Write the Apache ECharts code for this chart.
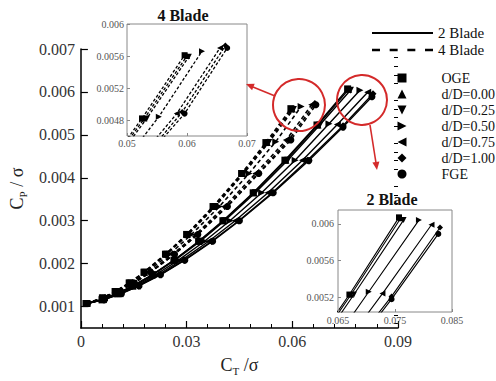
<!DOCTYPE html>
<html><head><meta charset="utf-8">
<script src="https://cdn.jsdelivr.net/npm/echarts@6/dist/echarts.min.js"></script>
<style>html,body{margin:0;padding:0;background:#fff}#c{width:496px;height:381px}</style>
</head><body><div id="c"></div>
<script>
// ---- categories / legend names ----
const caseNames = ['OGE','d/D=0.00','d/D=0.25','d/D=0.50','d/D=0.75','d/D=1.00','FGE'];
const bladeNames = ['2 Blade','4 Blade'];

// ---- 2 Blade data (CT/sigma, CP/sigma) ----
const b2_OGE_x  = [0.0015,0.0060,0.0102,0.0147,0.0202,0.0264,0.0334,0.0403,0.0489,0.0579,0.0670,0.0757];
const b2_OGE_y  = [0.00107,0.00116,0.00130,0.00148,0.00174,0.00208,0.00252,0.00300,0.00365,0.00441,0.00523,0.00607];
const b2_D000_x = [0.0016,0.0060,0.0103,0.0148,0.0203,0.0265,0.0336,0.0405,0.0491,0.0582,0.0673,0.0760];
const b2_D000_y = [0.00107,0.00116,0.00130,0.00148,0.00174,0.00208,0.00252,0.00300,0.00365,0.00441,0.00523,0.00606];
const b2_D025_x = [0.0016,0.0061,0.0104,0.0149,0.0205,0.0267,0.0339,0.0408,0.0495,0.0587,0.0678,0.0765];
const b2_D025_y = [0.00107,0.00116,0.00130,0.00148,0.00174,0.00208,0.00252,0.00300,0.00365,0.00441,0.00523,0.00604];
const b2_D050_x = [0.0017,0.0062,0.0107,0.0155,0.0212,0.0277,0.0351,0.0423,0.0513,0.0608,0.0704,0.0792];
const b2_D050_y = [0.00107,0.00116,0.00130,0.00148,0.00174,0.00208,0.00252,0.00300,0.00365,0.00441,0.00526,0.00604];
const b2_D075_x = [0.0017,0.0064,0.0111,0.0160,0.0219,0.0286,0.0363,0.0438,0.0531,0.0629,0.0728,0.0814];
const b2_D075_y = [0.00107,0.00116,0.00130,0.00148,0.00174,0.00208,0.00252,0.00300,0.00365,0.00441,0.00524,0.00599];
const b2_D100_x = [0.0018,0.0065,0.0114,0.0164,0.0224,0.0293,0.0371,0.0448,0.0543,0.0643,0.0744,0.0829];
const b2_D100_y = [0.00107,0.00116,0.00130,0.00148,0.00174,0.00208,0.00252,0.00300,0.00365,0.00441,0.00521,0.00596];
const b2_FGE_x  = [0.0018,0.0066,0.0115,0.0165,0.0226,0.0295,0.0374,0.0450,0.0546,0.0647,0.0744,0.0826];
const b2_FGE_y  = [0.00107,0.00116,0.00130,0.00148,0.00174,0.00208,0.00252,0.00300,0.00365,0.00440,0.00518,0.00589];

// ---- 4 Blade data ----
const b4_OGE_x  = [0.0015,0.0061,0.0097,0.0137,0.0179,0.0240,0.0300,0.0375,0.0456,0.0525,0.0596];
const b4_OGE_y  = [0.00107,0.00120,0.00135,0.00155,0.00180,0.00222,0.00268,0.00333,0.00410,0.00482,0.00561];
const b4_D000_x = [0.0016,0.0062,0.0098,0.0138,0.0180,0.0242,0.0302,0.0378,0.0459,0.0529,0.0600];
const b4_D000_y = [0.00107,0.00120,0.00135,0.00155,0.00180,0.00222,0.00268,0.00333,0.00410,0.00482,0.00560];
const b4_D025_x = [0.0016,0.0062,0.0099,0.0139,0.0181,0.0244,0.0305,0.0381,0.0462,0.0533,0.0603];
const b4_D025_y = [0.00107,0.00120,0.00135,0.00155,0.00180,0.00222,0.00268,0.00333,0.00410,0.00482,0.00559];
const b4_D050_x = [0.0017,0.0064,0.0102,0.0144,0.0187,0.0252,0.0314,0.0393,0.0477,0.0553,0.0625];
const b4_D050_y = [0.00107,0.00120,0.00135,0.00155,0.00180,0.00222,0.00268,0.00333,0.00410,0.00484,0.00566];
const b4_D075_x = [0.0017,0.0067,0.0106,0.0149,0.0194,0.0261,0.0326,0.0408,0.0496,0.0583,0.0655];
const b4_D075_y = [0.00107,0.00120,0.00135,0.00155,0.00180,0.00222,0.00268,0.00333,0.00410,0.00488,0.00570];
const b4_D100_x = [0.0018,0.0068,0.0107,0.0151,0.0197,0.0265,0.0331,0.0414,0.0503,0.0592,0.0664];
const b4_D100_y = [0.00107,0.00120,0.00135,0.00155,0.00180,0.00222,0.00268,0.00333,0.00410,0.00490,0.00573];
const b4_FGE_x  = [0.0018,0.0068,0.0108,0.0152,0.0198,0.0266,0.0332,0.0416,0.0505,0.0596,0.0667];
const b4_FGE_y  = [0.00107,0.00120,0.00135,0.00155,0.00180,0.00222,0.00268,0.00333,0.00410,0.00488,0.00570];

// ---- tick labels ----
const mainXTicks = [0, 0.03, 0.06, 0.09];
const mainYTicks = [0.001,0.002,0.003,0.004,0.005,0.006,0.007];
const in4XTicks = [0.05, 0.06, 0.07];
const in4YTicks = [0.0048, 0.0052, 0.0056, 0.006];
const in2XTicks = [0.065, 0.075, 0.085];
const in2YTicks = [0.0052, 0.0056, 0.006];

const FONT = 'Liberation Serif';
const marks = ['path://M0,0L10,0L10,10L0,10Z','path://M5,0L10,10L0,10Z','path://M0,0L10,0L5,10Z',
  'path://M0,0L10,5L0,10Z','path://M10,0L0,5L10,10Z','path://M5,0L10,5L5,10L0,5Z','circle'];
const lineIcons = ['path://M0,0H61V2H0Z',
  'path://M0,0H7V2H0Z M15.5,0H22.5V2H15.5Z M31,0H38V2H31Z M46.5,0H53.5V2H46.5Z'];

const b2 = [[b2_OGE_x,b2_OGE_y],[b2_D000_x,b2_D000_y],[b2_D025_x,b2_D025_y],[b2_D050_x,b2_D050_y],
            [b2_D075_x,b2_D075_y],[b2_D100_x,b2_D100_y],[b2_FGE_x,b2_FGE_y]];
const b4 = [[b4_OGE_x,b4_OGE_y],[b4_D000_x,b4_D000_y],[b4_D025_x,b4_D025_y],[b4_D050_x,b4_D050_y],
            [b4_D075_x,b4_D075_y],[b4_D100_x,b4_D100_y],[b4_FGE_x,b4_FGE_y]];
const pair = (xs, ys) => xs.map((x, i) => [x, ys[i]]);

const series = [];
// legend dummy series
series.push({type:'line', name:'2 Blade', data:[], symbol:'none', lineStyle:{color:'#000', width:2}, itemStyle:{color:'#000'}});
series.push({type:'line', name:'4 Blade', data:[], symbol:'none', lineStyle:{color:'#000', width:2, type:[7,8]}, itemStyle:{color:'#000'}});
caseNames.forEach((n, i) => series.push({type:'line', name:n, data:[], symbol:marks[i], itemStyle:{color:'#000'}, lineStyle:{color:'#000'}}));

function mk(name, data, xi, yi, dashed, size, width, sym, z) {
  return {type:'line', name, data, xAxisIndex:xi, yAxisIndex:yi, symbol:sym, symbolSize:size,
    showSymbol:true, clip:true, silent:true, z,
    lineStyle:{color:'#000', width, type: dashed ? dashed : 'solid'}, itemStyle:{color:'#000'}};
}
caseNames.forEach((n, i) => {
  series.push(mk('2B ' + n, pair(b2[i][0], b2[i][1]), 0, 0, null, 7, 1.4, marks[i], 2));
  series.push(mk('4B ' + n, pair(b4[i][0], b4[i][1]), 0, 0, [4,3], 7, 1.6, marks[i], 2));
  series.push(mk('4B in ' + n, pair(b4[i][0], b4[i][1]), 1, 2, [3,2], 6, 1.3, marks[i], 8));
  series.push(mk('2B in ' + n, pair(b2[i][0], b2[i][1]), 2, 3, null, 6, 1.1, marks[i], 8));
});

const yMinor = [];
for (let k = 3; k <= 35; k++) { const v = +(k * 0.0002).toFixed(4); if (k % 5 !== 0) yMinor.push(v); }

const insetLabel = {fontFamily:FONT, fontSize:10, color:'#555'};
const legendText = {fontFamily:FONT, fontSize:14, color:'#111', lineHeight:16, overflow:'none'};
const option = {
  animation:false,
  backgroundColor:'#fff',
  grid:[
    {left:78, top:49, width:320, height:297},
    {left:127, top:24, width:120, height:112, show:true, borderColor:'#888', borderWidth:1, backgroundColor:'#fff', z:5},
    {left:338, top:210, width:114, height:102, show:true, borderColor:'#888', borderWidth:1, backgroundColor:'#fff', z:5}
  ],
  xAxis:[
    {type:'value', gridIndex:0, min:0, max:0.09, interval:0.03,
     name:'{a|C}{b|T}{a| /σ}', nameLocation:'middle', nameGap:26,
     nameTextStyle:{color:'#222', rich:{a:{fontFamily:FONT, fontSize:18, lineHeight:22, color:'#222'}, b:{fontFamily:FONT, fontSize:11, lineHeight:11, verticalAlign:'bottom', color:'#222'}}},
     axisLine:{lineStyle:{color:'#000', width:1.5}},
     axisTick:{inside:true, length:7, lineStyle:{color:'#000', width:1.2}},
     minorTick:{show:true, splitNumber:5, length:4, lineStyle:{color:'#000', width:1}},
     axisLabel:{fontFamily:FONT, fontSize:16, color:'#333', margin:5,
       formatter: v => mainXTicks.includes(+v.toFixed(4)) ? String(+v.toFixed(4)) : ''},
     splitLine:{show:false}},
    {type:'value', gridIndex:1, min:0.05, max:0.07, interval:0.01, z:9,
     axisLine:{show:false}, axisTick:{inside:true, length:3, lineStyle:{color:'#888'}},
     axisLabel:{...insetLabel, margin:2, customValues: in4XTicks}, splitLine:{show:false}},
    {type:'value', gridIndex:2, min:0.065, max:0.085, z:9,
     axisLine:{show:false}, axisTick:{inside:true, length:3, lineStyle:{color:'#888'}, customValues: in2XTicks},
     axisLabel:{...insetLabel, margin:3, customValues: in2XTicks}, splitLine:{show:false}}
  ],
  yAxis:[
    {type:'value', gridIndex:0, min:0.0005, max:0.007,
     name:'{a|C}{b|P}{a| / σ}', nameLocation:'middle', nameGap:48,
     nameTextStyle:{color:'#222', rich:{a:{fontFamily:FONT, fontSize:18, lineHeight:22, color:'#222'}, b:{fontFamily:FONT, fontSize:11, lineHeight:11, verticalAlign:'bottom', color:'#222'}}},
     axisLine:{lineStyle:{color:'#000', width:1.5}},
     axisTick:{inside:true, length:7, lineStyle:{color:'#000', width:1.2}, customValues: mainYTicks},
     axisLabel:{fontFamily:FONT, fontSize:16, color:'#333', margin:6, customValues: mainYTicks},
     splitLine:{show:false}},
    {type:'value', gridIndex:0, min:0.0005, max:0.007,
     axisLine:{show:false}, axisLabel:{show:false}, splitLine:{show:false},
     axisTick:{inside:true, length:4, lineStyle:{color:'#000', width:1}, customValues: yMinor}},
    {type:'value', gridIndex:1, min:0.0046, max:0.006, z:9,
     axisLine:{show:false}, axisTick:{inside:true, length:3, lineStyle:{color:'#888'}, customValues: in4YTicks},
     axisLabel:{...insetLabel, margin:3, customValues: in4YTicks}, splitLine:{show:false}},
    {type:'value', gridIndex:2, min:0.00504, max:0.00615, z:9,
     axisLine:{show:false}, axisTick:{inside:true, length:3, lineStyle:{color:'#888'}, customValues: in2YTicks},
     axisLabel:{...insetLabel, margin:4, customValues: in2YTicks}, splitLine:{show:false}}
  ],
  legend:[
    {data:bladeNames.map((n, i) => ({name:n, icon:lineIcons[i]})), orient:'vertical', left:372, top:25, width:124,
     itemWidth:61, itemHeight:14, itemGap:1, padding:0, selectedMode:false, symbolKeepAspect:true,
     formatter: n => '{s| }' + n, textStyle:{...legendText, fontSize:15, rich:{s:{width:0, fontSize:15}}}},
    {data:caseNames.map((n, i) => ({name:n, icon:marks[i]})), orient:'vertical', left:397.5, top:70, width:98,
     itemWidth:9, itemHeight:9, itemGap:0, padding:0, selectedMode:false, symbolKeepAspect:true,
     formatter: n => '{s| }' + n, textStyle:{...legendText, rich:{s:{width:30, fontSize:14}}}}
  ],
  graphic:[
    {type:'text', x:183, y:15, z:10, style:{text:'4 Blade', font:'bold 16px "Liberation Serif"', fill:'#111', align:'center', verticalAlign:'middle'}},
    {type:'text', x:392, y:199, z:10, style:{text:'2 Blade', font:'bold 16px "Liberation Serif"', fill:'#111', align:'center', verticalAlign:'middle'}},
    {type:'circle', z:10, shape:{cx:299, cy:105, r:26}, style:{fill:'none', stroke:'#d42a2a', lineWidth:2}},
    {type:'circle', z:10, shape:{cx:362, cy:100, r:25}, style:{fill:'none', stroke:'#d42a2a', lineWidth:2}},
    {type:'polyline', z:10, shape:{points:[[275,96],[253,87]]}, style:{stroke:'#d42a2a', lineWidth:1.6, fill:'none'}},
    {type:'polygon', z:10, shape:{points:[[246,84],[252.1,90.2],[254.7,83.7]]}, style:{fill:'#d42a2a'}},
    {type:'polyline', z:10, shape:{points:[[370,125],[376,163]]}, style:{stroke:'#d42a2a', lineWidth:1.6, fill:'none'}},
    {type:'polygon', z:10, shape:{points:[[377,170],[379.4,161.5],[372.4,162.6]]}, style:{fill:'#d42a2a'}}
  ],
  series
};
const chart = echarts.init(document.getElementById('c'), null, {renderer:'svg'});
chart.setOption(option);
</script></body></html>
